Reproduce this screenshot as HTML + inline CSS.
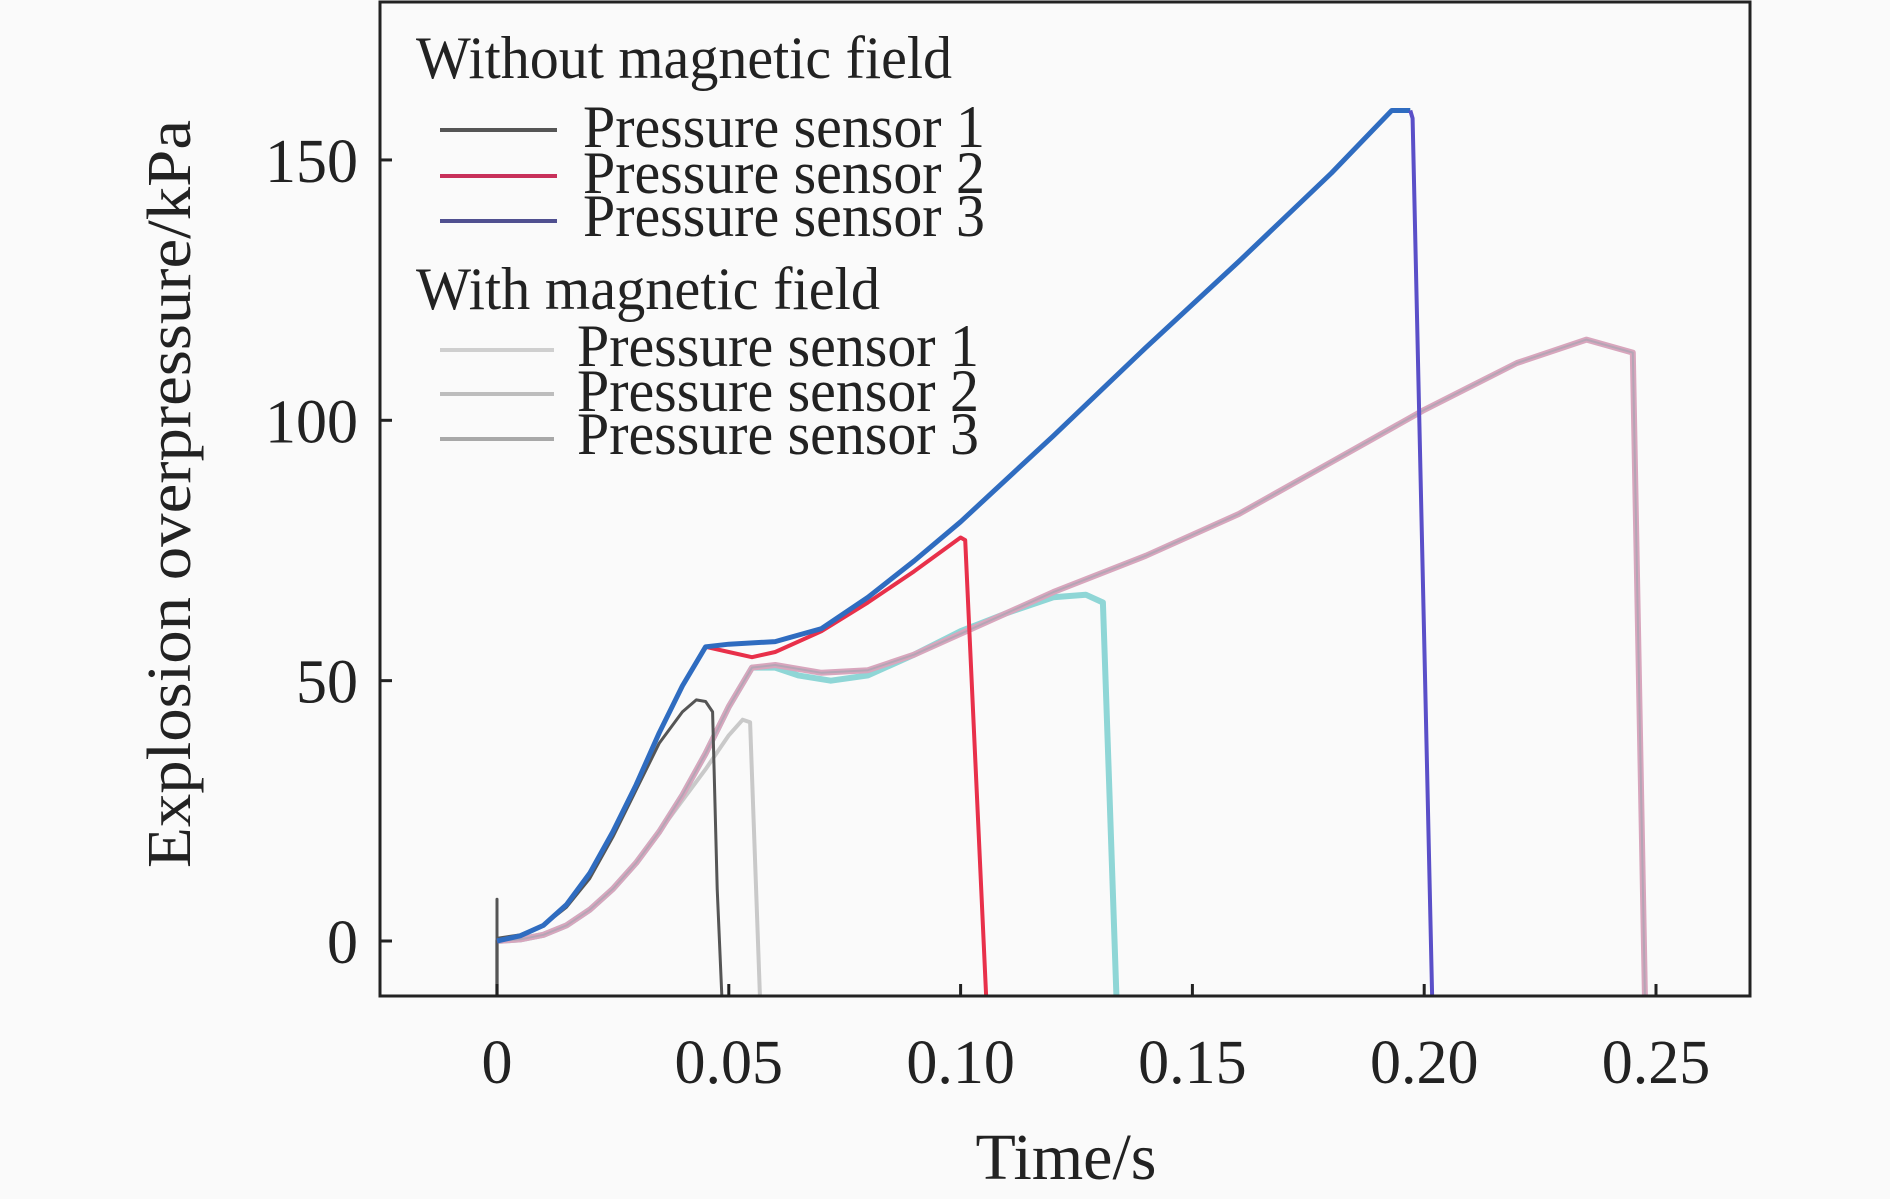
<!DOCTYPE html>
<html><head><meta charset="utf-8"><style>
html,body{margin:0;padding:0;background:#fafafa;}
svg{display:block;font-family:"Liberation Serif","DejaVu Serif",serif;}
</style></head><body>
<svg id="chart" width="1890" height="1199" viewBox="0 0 1890 1199" xmlns="http://www.w3.org/2000/svg">
<rect x="0" y="0" width="1890" height="1199" fill="#fafafa"/>
<g id="plot"></g>
<rect x="380" y="2" width="1370" height="994" fill="none" stroke="#222" stroke-width="3"/>
<g id="axes"></g>
<text x="190" y="494" font-size="62" text-anchor="middle" transform="rotate(-90 190 494)" textLength="748" lengthAdjust="spacingAndGlyphs" fill="#222">Explosion overpressure/kPa</text>
<text x="1066" y="1179" font-size="66" text-anchor="middle" fill="#222">Time/s</text>
<g fill="#222" font-size="60">
<text x="416" y="78" textLength="536" lengthAdjust="spacingAndGlyphs">Without magnetic field</text>
<line x1="440" y1="130" x2="557" y2="130" stroke="#555" stroke-width="4"/>
<text x="583" y="147" textLength="402" lengthAdjust="spacingAndGlyphs">Pressure sensor 1</text>
<line x1="440" y1="176" x2="557" y2="176" stroke="#c8305a" stroke-width="4"/>
<text x="583" y="193" textLength="402" lengthAdjust="spacingAndGlyphs">Pressure sensor 2</text>
<line x1="440" y1="221" x2="557" y2="221" stroke="#505090" stroke-width="4"/>
<text x="583" y="236" textLength="402" lengthAdjust="spacingAndGlyphs">Pressure sensor 3</text>
<text x="416" y="309" textLength="464" lengthAdjust="spacingAndGlyphs">With magnetic field</text>
<line x1="440" y1="350" x2="554" y2="350" stroke="#cfcfcf" stroke-width="4"/>
<text x="577" y="366" textLength="402" lengthAdjust="spacingAndGlyphs">Pressure sensor 1</text>
<line x1="440" y1="394" x2="554" y2="394" stroke="#bdbdbd" stroke-width="4"/>
<text x="577" y="411" textLength="402" lengthAdjust="spacingAndGlyphs">Pressure sensor 2</text>
<line x1="440" y1="439" x2="554" y2="439" stroke="#a8a8a8" stroke-width="4"/>
<text x="577" y="454" textLength="402" lengthAdjust="spacingAndGlyphs">Pressure sensor 3</text>
</g>
</svg>
<script>
const xTicks = [0, 0.05, 0.10, 0.15, 0.20, 0.25];
const xTickLabels = ["0", "0.05", "0.10", "0.15", "0.20", "0.25"];
const yTicks = [0, 50, 100, 150];
const yTickLabels = ["0", "50", "100", "150"];

const woS1T = [0, 0, 0, 0.005, 0.01, 0.015, 0.02, 0.025, 0.03, 0.035, 0.04, 0.043, 0.045, 0.0465, 0.0475, 0.0485];
const woS1V = [-10.4, 8, 0.5, 1.2, 3, 6.5, 12, 20, 29, 38, 44, 46.3, 46, 44, 10, -10.4];

const woS2T = [0, 0.005, 0.01, 0.015, 0.02, 0.025, 0.03, 0.035, 0.04, 0.045, 0.05, 0.055, 0.06, 0.07, 0.08, 0.09, 0.1, 0.101, 0.1055];
const woS2V = [0, 1, 3, 7, 13, 21, 30, 40, 49, 56.5, 55.5, 54.5, 55.5, 59.5, 65, 71, 77.5, 77, -10.4];

const woS3T = [0, 0.005, 0.01, 0.015, 0.02, 0.025, 0.03, 0.035, 0.04, 0.045, 0.05, 0.06, 0.07, 0.08, 0.09, 0.1, 0.12, 0.14, 0.16, 0.18, 0.193, 0.197];
const woS3V = [0, 1, 3, 7, 13, 21, 30, 40, 49, 56.5, 57, 57.5, 60, 66, 73, 80.5, 97, 114, 130.5, 147.5, 159.5, 159.5];
const woS3DropT = [0.197, 0.1975, 0.2017];
const woS3DropV = [159.5, 158, -10.4];

const wS1T = [0, 0, 0.005, 0.01, 0.015, 0.02, 0.025, 0.03, 0.035, 0.04, 0.045, 0.05, 0.053, 0.0546, 0.0567];
const wS1V = [-10.4, 0, 0.3, 1.2, 3, 6, 10, 15, 21, 27, 33, 39.5, 42.5, 42, -10.4];

const wS2T = [0, 0.005, 0.01, 0.015, 0.02, 0.025, 0.03, 0.035, 0.04, 0.045, 0.05, 0.055, 0.06, 0.065, 0.072, 0.08, 0.09, 0.1, 0.11, 0.12, 0.127, 0.1307, 0.1336];
const wS2V = [0, 0.3, 1.2, 3, 6, 10, 15, 21, 28, 36, 45, 52.5, 52.5, 51, 50, 51, 55, 59.5, 63, 66, 66.5, 65, -10.4];

const wS3T = [0, 0.005, 0.01, 0.015, 0.02, 0.025, 0.03, 0.035, 0.04, 0.045, 0.05, 0.055, 0.06, 0.07, 0.08, 0.09, 0.1, 0.12, 0.14, 0.16, 0.18, 0.2, 0.22, 0.235, 0.245, 0.2476];
const wS3V = [0, 0.3, 1.2, 3, 6, 10, 15, 21, 28, 36, 45, 52.5, 53, 51.5, 52, 55, 59, 67, 74, 82, 92, 102, 111, 115.5, 113, -10.4];

const X0 = 497, XPER = 4636;
const Y0 = 941, YPER = 5.207;
function sx(t){ return X0 + t * XPER; }
function sy(v){ return Y0 - v * YPER; }
const NS = "http://www.w3.org/2000/svg";
const plot = document.getElementById('plot');
const axes = document.getElementById('axes');

function drawLine(ts, vs, color, width, name){
  const p = document.createElementNS(NS, 'polyline');
  p.setAttribute('points', ts.map((t,i)=> sx(t).toFixed(1)+','+sy(vs[i]).toFixed(1)).join(' '));
  p.setAttribute('fill','none');
  p.setAttribute('stroke',color);
  p.setAttribute('stroke-width',width);
  p.setAttribute('stroke-linejoin','round');
  
  
  plot.appendChild(p);
}
drawLine(wS1T, wS1V, '#c9c9c9', 4, 'series-with-field-sensor-1');
drawLine(wS2T, wS2V, '#8fd6d6', 6, 'series-with-field-sensor-2');
drawLine(wS3T, wS3V, '#d8a6bd', 6, 'series-with-field-sensor-3');
drawLine(wS3T, wS3V, '#b5a5b5', 2, 'series-with-field-sensor-3-core');
drawLine(woS1T, woS1V, '#555555', 3, 'series-without-field-sensor-1');
drawLine(woS2T, woS2V, '#e8304a', 4, 'series-without-field-sensor-2');
drawLine(woS3T, woS3V, '#2f6cc0', 5, 'series-without-field-sensor-3');
drawLine(woS3DropT, woS3DropV, '#5a4fc8', 4, 'series-without-field-sensor-3-drop');

xTicks.forEach((t,i)=>{
  const l = document.createElementNS(NS,'line');
  l.setAttribute('x1', sx(t)); l.setAttribute('x2', sx(t));
  l.setAttribute('y1', 996); l.setAttribute('y2', 984);
  l.setAttribute('stroke','#222'); l.setAttribute('stroke-width', 3);
  
  
  axes.appendChild(l);
  const tx = document.createElementNS(NS,'text');
  tx.setAttribute('x', sx(t)); tx.setAttribute('y', 1083);
  tx.setAttribute('text-anchor','middle'); tx.setAttribute('font-size', 62);
  tx.setAttribute('fill','#222');
  tx.textContent = xTickLabels[i];
  
  
  axes.appendChild(tx);
});
yTicks.forEach((v,i)=>{
  const l = document.createElementNS(NS,'line');
  l.setAttribute('x1', 380); l.setAttribute('x2', 392);
  l.setAttribute('y1', sy(v)); l.setAttribute('y2', sy(v));
  l.setAttribute('stroke','#222'); l.setAttribute('stroke-width', 3);
  
  
  axes.appendChild(l);
  const tx = document.createElementNS(NS,'text');
  tx.setAttribute('x', 358); tx.setAttribute('y', sy(v) + 22);
  tx.setAttribute('text-anchor','end'); tx.setAttribute('font-size', 62);
  tx.setAttribute('fill','#222');
  tx.textContent = yTickLabels[i];
  
  
  axes.appendChild(tx);
});
</script>
</body></html>
